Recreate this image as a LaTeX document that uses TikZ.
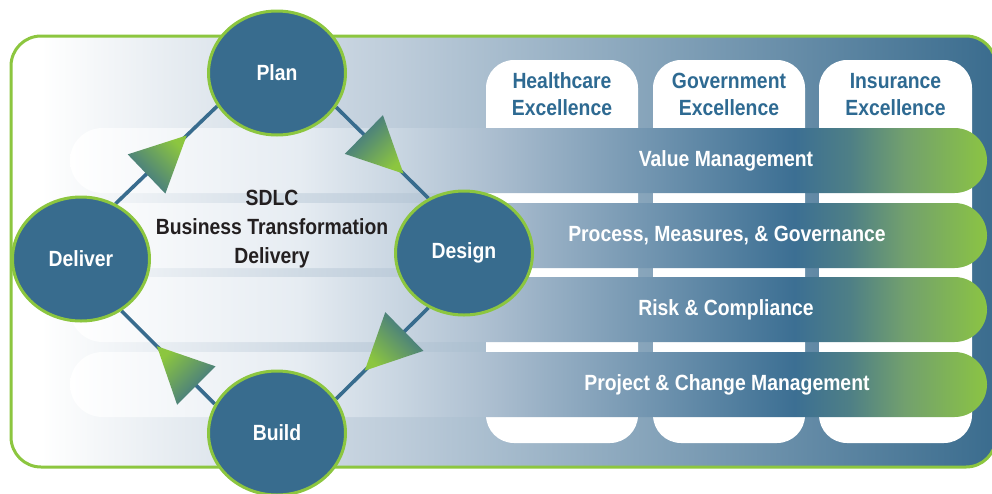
\documentclass[tikz,border=0pt]{standalone}
\usepackage{fontspec}
\setmainfont{Liberation Sans}[FakeStretch=0.88]
\usetikzlibrary{shapes.geometric,calc}
\definecolor{cblue}{HTML}{386C8E}
\definecolor{cgreen}{HTML}{8CC63F}
\definecolor{ctxt}{HTML}{2E6A92}
\definecolor{cdark}{HTML}{231F20}
\definecolor{bgmid}{HTML}{BDCCDA}
\definecolor{bgdark}{HTML}{3A6C8E}
\definecolor{bnA}{HTML}{E6ECF2}
\definecolor{bnB}{HTML}{C8D5E1}
\definecolor{bnC}{HTML}{A9BCCE}
\definecolor{bnD}{HTML}{3C6F93}
\definecolor{bnE}{HTML}{4E7F86}
\definecolor{bnF}{HTML}{72A06E}
\definecolor{bnG}{HTML}{8BC443}
\pgfdeclarehorizontalshading{frameshade}{100bp}{color(0bp)=(white); color(26.5bp)=(white); color(44.7bp)=(bgmid); color(75bp)=(bgdark); color(100bp)=(bgdark)}
\pgfdeclarehorizontalshading{bandshade}{100bp}{color(0bp)=(white); color(25bp)=(white); color(37.5bp)=(bnA); color(43bp)=(bnB); color(48.4bp)=(bnC); color(64.5bp)=(bnD); color(67.5bp)=(bnE); color(70.5bp)=(bnF); color(75bp)=(bnG); color(100bp)=(bnG)}
\pgfdeclarelayer{back}
\pgfdeclarelayer{mid}
\pgfsetlayers{back,mid,main}
\newcommand\shtri[5]{% name, start, end, fraction, shading angle
  \coordinate (#1) at ($(#2)!#4!(#3)$);
  \shade[top color=cgreen, bottom color=cblue, shading angle=#5]
    (#1) -- ($(#1)!62pt!26:(#2)$) -- ($(#1)!62pt!-26:(#2)$) -- cycle;}
\tikzset{
  phase/.style={ellipse, draw=cgreen, line width=3pt, fill=cblue, minimum width=137pt,
    minimum height=124pt, inner sep=0pt, text=white, font=\bfseries\fontsize{22}{26}\selectfont},
  cardbox/.style={draw=none, fill=white, rounded corners=28pt, minimum height=383pt, inner sep=0pt},
  cardtxt/.style={text=ctxt, font=\bfseries\fontsize{22}{27}\selectfont, align=center, inner sep=0pt},
  bandbox/.style={shade, shading=bandshade, rounded corners=32.5pt},
  bandtxt/.style={text=white, font=\bfseries\fontsize{22}{26}\selectfont, inner sep=0pt},
  conn/.style={draw=cblue, line width=3.6pt},
}
\begin{document}
\begin{tikzpicture}[x=1pt, y=-1pt]
\useasboundingbox (0,0) rectangle (992,493);
% nodes (phases)
\node[phase] (plan) at (277,73) {Plan};
\node[phase] (deliver) at (81,259) {Deliver};
\node[phase] (design) at (464,253) {Design};
\node[phase] (build) at (277,433) {Build};
\node[font=\bfseries\fontsize{22}{29}\selectfont, text=cdark, align=center] (sdlc) at (272,229)
  {SDLC\\Business Transformation\\Delivery};
\begin{pgfonlayer}{back}
  \shadedraw[shading=frameshade, draw=cgreen, line width=3pt, rounded corners=30pt] (11,36) rectangle (996,467);
  \node[cardbox, minimum width=152pt] (hc) at (562,251.5) {};
  \node[cardbox, minimum width=152pt] (gov) at (729,251.5) {};
  \node[cardbox, minimum width=153pt] (ins) at (895.5,251.5) {};
  \node[cardtxt] (hct) at (562,94.5) {Healthcare\\Excellence};
  \node[cardtxt] (govt) at (729,94.5) {Government\\Excellence};
  \node[cardtxt] (inst) at (895.5,94.5) {Insurance\\Excellence};
  \path[bandbox] (70,128) rectangle (987,193);
  \path[bandbox] (70,203) rectangle (987,268);
  \path[bandbox] (70,277) rectangle (987,342);
  \path[bandbox] (70,352) rectangle (987,417);
  \node[bandtxt] (vm) at (726,160.5) {Value Management};
  \node[bandtxt] (pmg) at (727,236) {Process, Measures, \& Governance};
  \node[bandtxt] (rc) at (726,310) {Risk \& Compliance};
  \node[bandtxt] (pcm) at (727,385) {Project \& Change Management};
\end{pgfonlayer}
\begin{pgfonlayer}{mid}
  \draw[conn] (deliver.58) -- (plan.209);
  \draw[conn] (plan.330) -- (design.123);
  \draw[conn] (design.237) -- (build.30);
  \draw[conn] (build.155) -- (deliver.308);
  \shtri{t1}{deliver.58}{plan.209}{0.7}{-45}
  \shtri{t2}{plan.330}{design.123}{0.73}{-135}
  \shtri{t3}{design.237}{build.30}{0.69}{135}
  \shtri{t4}{build.155}{deliver.308}{0.62}{45}
\end{pgfonlayer}
\end{tikzpicture}
\end{document}
